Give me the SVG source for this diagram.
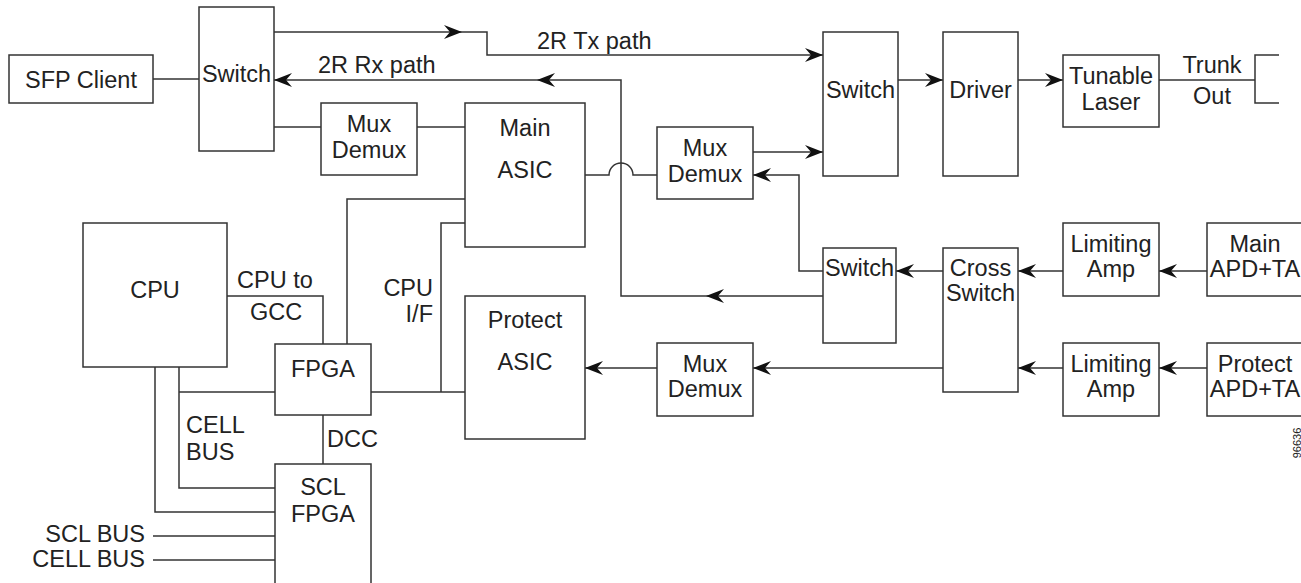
<svg xmlns="http://www.w3.org/2000/svg" width="1301" height="583" viewBox="0 0 1301 583">
<style>
.box{fill:#fff;stroke:#333;stroke-width:1.5}
.ln{fill:none;stroke:#333;stroke-width:1.5}
.ar{fill:none;stroke:#333;stroke-width:1.5;marker-end:url(#ah)}
text{font-family:"Liberation Sans",Arial,Helvetica,sans-serif;font-size:23.5px;fill:#222}
.c{text-anchor:middle}
.e{text-anchor:end}
</style>
<defs>
<marker id="ah" markerUnits="userSpaceOnUse" viewBox="-19 -8 20 16" refX="0" refY="0" markerWidth="20" markerHeight="16" orient="auto">
<path d="M0,0 L-18,-7 L-12,0 L-18,7 Z" fill="#111"/>
</marker>
</defs>
<rect width="1301" height="583" fill="#fff"/>
<g id="connectors">
<path class="ln" d="M153,79 H199"/>
<path class="ar" d="M274,32 H462"/>
<path class="ar" d="M462,32 H487 V55 H823"/>
<path class="ar" d="M823,296 H706"/>
<path class="ar" d="M706,296 H621 V80 H537"/>
<path class="ar" d="M537,80 H274"/>
<path class="ln" d="M274,127 H321"/>
<path class="ln" d="M417,127 H465"/>
<path class="ln" d="M585,175 H609 A12,12 0 0 1 633,175 H657"/>
<path class="ar" d="M753,152 H823"/>
<path class="ar" d="M823,271 H799 V175 H753"/>
<path class="ar" d="M898,80 H943"/>
<path class="ar" d="M1018,80 H1063"/>
<path class="ln" d="M1159,80 H1255"/>
<path class="ln" d="M1279,55 H1255 V103 H1279"/>
<path class="ar" d="M943,271 H896"/>
<path class="ar" d="M1063,271 H1018"/>
<path class="ar" d="M1207,271 H1159"/>
<path class="ar" d="M943,368 H753"/>
<path class="ar" d="M1063,368 H1018"/>
<path class="ar" d="M1207,368 H1159"/>
<path class="ar" d="M657,368 H585"/>
<path class="ln" d="M347,344 V199 H465"/>
<path class="ln" d="M465,223 H441 V392"/>
<path class="ln" d="M371,392 H465"/>
<path class="ln" d="M227,296 H323 V344"/>
<path class="ln" d="M179,367 V488 H275"/>
<path class="ln" d="M179,392 H275"/>
<path class="ln" d="M155,367 V512 H275"/>
<path class="ln" d="M323,415 V464"/>
<path class="ln" d="M153,536 H275"/>
<path class="ln" d="M153,560 H275"/>
</g>
<g id="sfp-client"><rect class="box" x="9" y="55" width="144" height="48"/><text class="c" x="81" y="88">SFP Client</text></g>
<g id="switch1"><rect class="box" x="199" y="7" width="75" height="144"/><text class="c" x="236.5" y="82">Switch</text></g>
<g id="muxdemux1"><rect class="box" x="321" y="103" width="96" height="72"/><text class="c" x="369" y="132">Mux</text><text class="c" x="369" y="158">Demux</text></g>
<g id="main-asic"><rect class="box" x="465" y="103" width="120" height="144"/><text class="c" x="525" y="136">Main</text><text class="c" x="525" y="178">ASIC</text></g>
<g id="muxdemux2"><rect class="box" x="657" y="127" width="96" height="72"/><text class="c" x="705" y="156">Mux</text><text class="c" x="705" y="182">Demux</text></g>
<g id="switch2"><rect class="box" x="823" y="32" width="75" height="144"/><text class="c" x="860.5" y="98">Switch</text></g>
<g id="driver"><rect class="box" x="943" y="32" width="75" height="144"/><text class="c" x="980.5" y="98">Driver</text></g>
<g id="tunable-laser"><rect class="box" x="1063" y="55" width="96" height="72"/><text class="c" x="1111" y="84">Tunable</text><text class="c" x="1111" y="110">Laser</text></g>
<g id="trunk-out"><text class="c" x="1212" y="73">Trunk</text><text class="c" x="1212" y="104">Out</text></g>
<g id="cpu"><rect class="box" x="83" y="223" width="144" height="144"/><text class="c" x="155" y="298">CPU</text></g>
<g id="fpga"><rect class="box" x="275" y="344" width="96" height="71"/><text class="c" x="323" y="377">FPGA</text></g>
<g id="scl-fpga"><rect class="box" x="275" y="464" width="96" height="130"/><text class="c" x="323" y="495">SCL</text><text class="c" x="323" y="522">FPGA</text></g>
<g id="protect-asic"><rect class="box" x="465" y="296" width="120" height="143"/><text class="c" x="525" y="328">Protect</text><text class="c" x="525" y="370">ASIC</text></g>
<g id="switch3"><rect class="box" x="823" y="248" width="73" height="95"/><text class="c" x="859.5" y="276">Switch</text></g>
<g id="muxdemux3"><rect class="box" x="657" y="343" width="96" height="73"/><text class="c" x="705" y="372">Mux</text><text class="c" x="705" y="397">Demux</text></g>
<g id="cross-switch"><rect class="box" x="943" y="248" width="75" height="144"/><text class="c" x="980.5" y="276">Cross</text><text class="c" x="980.5" y="301">Switch</text></g>
<g id="limiting-amp1"><rect class="box" x="1063" y="223" width="96" height="73"/><text class="c" x="1111" y="252">Limiting</text><text class="c" x="1111" y="277">Amp</text></g>
<g id="limiting-amp2"><rect class="box" x="1063" y="343" width="96" height="73"/><text class="c" x="1111" y="372">Limiting</text><text class="c" x="1111" y="397">Amp</text></g>
<g id="main-apd"><rect class="box" x="1207" y="223" width="110" height="73"/><text class="c" x="1255" y="252">Main</text><text class="c" x="1255" y="277">APD+TA</text></g>
<g id="protect-apd"><rect class="box" x="1207" y="343" width="110" height="73"/><text class="c" x="1255" y="372">Protect</text><text class="c" x="1255" y="397">APD+TA</text></g>
<g id="labels">
<text x="537" y="49">2R Tx path</text>
<text x="318" y="73">2R Rx path</text>
<text x="237" y="288">CPU to</text>
<text x="250" y="320">GCC</text>
<text class="e" x="433" y="296">CPU</text>
<text class="e" x="433" y="322">I/F</text>
<text x="186" y="433">CELL</text>
<text x="186" y="460">BUS</text>
<text x="327" y="447">DCC</text>
<text class="e" x="145" y="542">SCL BUS</text>
<text class="e" x="145" y="567">CELL BUS</text>
<text class="c" transform="translate(1301,443) rotate(-90)" style="font-size:11px">96636</text>
</g>
</svg>
